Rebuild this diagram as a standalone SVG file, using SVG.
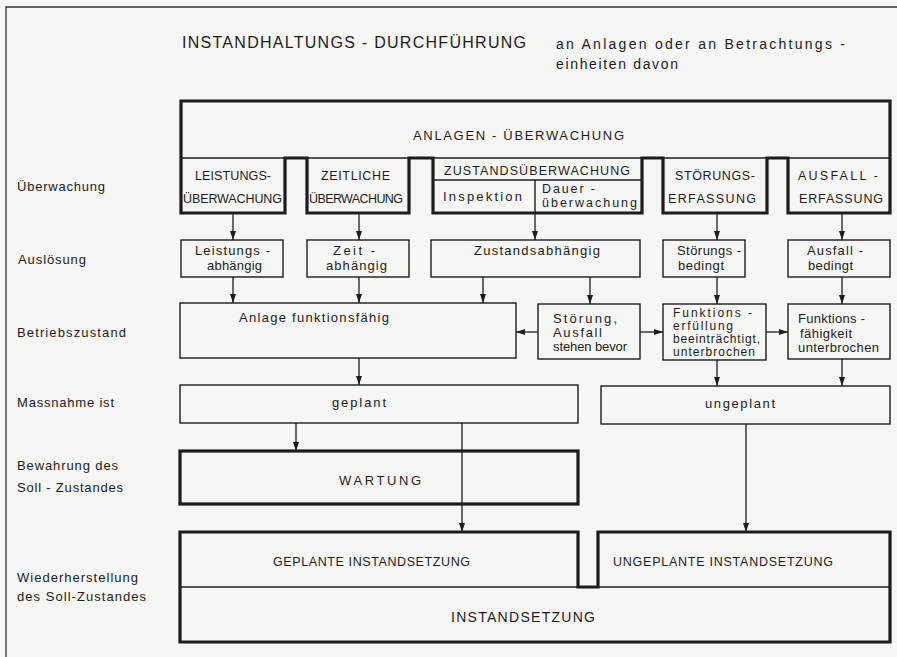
<svg xmlns="http://www.w3.org/2000/svg" width="897" height="657" viewBox="0 0 897 657">
<style>
text { font-family: "Liberation Sans", Arial, sans-serif; font-size: 13px; fill: #1c1c1c; }
.cap { font-size: 12.5px; }
.sm { font-size: 12px; }
.big { font-size: 16px; }
.sub { font-size: 14px; }
.thin { fill: none; stroke: #1c1c1c; stroke-width: 1.4; }
.heavy { fill: none; stroke: #1c1c1c; stroke-width: 3.2; stroke-linejoin: miter; }
.frame { fill: none; stroke: #333; stroke-width: 1.3; }
.conn line { stroke: #1c1c1c; stroke-width: 1.3; marker-end: url(#ah); }
</style>
<defs>
<marker id="ah" markerUnits="userSpaceOnUse" markerWidth="9" markerHeight="6" refX="9" refY="3" orient="auto">
<path d="M0,0 L9,3 L0,6 z" fill="#1c1c1c"/>
</marker>
</defs>
<rect width="897" height="657" fill="#f6f6f4"/>
<polyline class="frame" points="897,7 6,7 6,657"/>

<g id="title">
<text class="big" x="182" y="48" textLength="344" lengthAdjust="spacing">INSTANDHALTUNGS - DURCHFÜHRUNG</text>
<text class="sub" x="556" y="49" textLength="289" lengthAdjust="spacing">an Anlagen oder an Betrachtungs -</text>
<text class="sub" x="556" y="69" textLength="122" lengthAdjust="spacing">einheiten davon</text>
</g>

<g id="row-labels">
<text x="17" y="191" textLength="88" lengthAdjust="spacing">Überwachung</text>
<text x="18" y="264" textLength="68" lengthAdjust="spacing">Auslösung</text>
<text x="17" y="337" textLength="109" lengthAdjust="spacing">Betriebszustand</text>
<text x="17" y="407" textLength="97" lengthAdjust="spacing">Massnahme ist</text>
<text x="17" y="470" textLength="101" lengthAdjust="spacing">Bewahrung des</text>
<text x="17" y="492" textLength="106" lengthAdjust="spacing">Soll - Zustandes</text>
<text x="17" y="582" textLength="121" lengthAdjust="spacing">Wiederherstellung</text>
<text x="17" y="601" textLength="129" lengthAdjust="spacing">des Soll-Zustandes</text>
</g>

<g id="anlagen-ueberwachung">
<line class="thin" x1="181" y1="158" x2="890" y2="158"/>
<path class="heavy" d="M181,101 H890 V213 H788 V158 H767 V213 H663 V158 H642 V213 H433 V158 H409 V213 H307 V158 H285 V213 H181 Z"/>
<text x="413" y="140" textLength="211" lengthAdjust="spacing">ANLAGEN - ÜBERWACHUNG</text>
</g>

<g id="leistungsueberwachung">
<text class="cap" x="195" y="180" textLength="76" lengthAdjust="spacing">LEISTUNGS-</text>
<text class="cap" x="183" y="203" textLength="99" lengthAdjust="spacing">ÜBERWACHUNG</text>
</g>
<g id="zeitliche-ueberwachung">
<text class="cap" x="321" y="180" textLength="69" lengthAdjust="spacing">ZEITLICHE</text>
<text class="cap" x="309" y="203" textLength="94" lengthAdjust="spacing">ÜBERWACHUNG</text>
</g>
<g id="zustandsueberwachung">
<line class="thin" x1="433" y1="180" x2="642" y2="180"/>
<line class="thin" x1="535" y1="180" x2="535" y2="213"/>
<text class="cap" x="444" y="175" textLength="186" lengthAdjust="spacing">ZUSTANDSÜBERWACHUNG</text>
<text x="443" y="201" textLength="79" lengthAdjust="spacing">Inspektion</text>
<text class="cap" x="542" y="193" textLength="53" lengthAdjust="spacing">Dauer -</text>
<text class="cap" x="542" y="207" textLength="95" lengthAdjust="spacing">überwachung</text>
</g>
<g id="stoerungserfassung">
<text class="cap" x="675" y="180" textLength="80" lengthAdjust="spacing">STÖRUNGS-</text>
<text class="cap" x="668" y="203" textLength="88" lengthAdjust="spacing">ERFASSUNG</text>
</g>
<g id="ausfallerfassung">
<text class="cap" x="798" y="180" textLength="80" lengthAdjust="spacing">AUSFALL -</text>
<text class="cap" x="799" y="203" textLength="84" lengthAdjust="spacing">ERFASSUNG</text>
</g>

<g id="leistungsabhaengig">
<rect class="thin" x="181" y="240" width="102" height="37"/>
<text x="195" y="255" textLength="75" lengthAdjust="spacing">Leistungs -</text>
<text x="207" y="270" textLength="55" lengthAdjust="spacing">abhängig</text>
</g>
<g id="zeitabhaengig">
<rect class="thin" x="307" y="240" width="102" height="37"/>
<text x="333" y="255" textLength="42" lengthAdjust="spacing">Zeit -</text>
<text x="326" y="270" textLength="61" lengthAdjust="spacing">abhängig</text>
</g>
<g id="zustandsabhaengig">
<rect class="thin" x="431" y="240" width="209" height="37"/>
<text x="474" y="255" textLength="126" lengthAdjust="spacing">Zustandsabhängig</text>
</g>
<g id="stoerungsbedingt">
<rect class="thin" x="663" y="240" width="82" height="37"/>
<text x="677" y="255" textLength="64" lengthAdjust="spacing">Störungs -</text>
<text x="678" y="270" textLength="46" lengthAdjust="spacing">bedingt</text>
</g>
<g id="ausfallbedingt">
<rect class="thin" x="788" y="240" width="102" height="37"/>
<text x="807" y="255" textLength="56" lengthAdjust="spacing">Ausfall -</text>
<text x="808" y="270" textLength="45" lengthAdjust="spacing">bedingt</text>
</g>

<g id="anlage-funktionsfaehig">
<rect class="thin" x="180" y="303" width="336" height="55"/>
<text x="239" y="322" textLength="150" lengthAdjust="spacing">Anlage funktionsfähig</text>
</g>
<g id="stoerung-ausfall">
<rect class="thin" x="538" y="304" width="102" height="55"/>
<text x="553" y="323" textLength="64" lengthAdjust="spacing">Störung,</text>
<text x="553" y="337" textLength="49" lengthAdjust="spacing">Ausfall</text>
<text x="553" y="351" textLength="74" lengthAdjust="spacing">stehen bevor</text>
</g>
<g id="funktionserfuellung">
<rect class="thin" x="663" y="304" width="103" height="56"/>
<text class="sm" x="673" y="317" textLength="79" lengthAdjust="spacing">Funktions -</text>
<text class="sm" x="673" y="330" textLength="60" lengthAdjust="spacing">erfüllung</text>
<text class="sm" x="673" y="343" textLength="87" lengthAdjust="spacing">beeinträchtigt,</text>
<text class="sm" x="673" y="356" textLength="82" lengthAdjust="spacing">unterbrochen</text>
</g>
<g id="funktionsfaehigkeit">
<rect class="thin" x="788" y="304" width="102" height="55"/>
<text x="798" y="323" textLength="67" lengthAdjust="spacing">Funktions -</text>
<text x="800" y="338" textLength="52" lengthAdjust="spacing">fähigkeit</text>
<text x="798" y="352" textLength="81" lengthAdjust="spacing">unterbrochen</text>
</g>

<g id="geplant">
<rect class="thin" x="180" y="385" width="398" height="38"/>
<text x="332" y="407" textLength="54" lengthAdjust="spacing">geplant</text>
</g>
<g id="ungeplant">
<rect class="thin" x="601" y="386" width="289" height="38"/>
<text x="705" y="408" textLength="70" lengthAdjust="spacing">ungeplant</text>
</g>

<g id="wartung">
<rect class="heavy" x="180" y="451" width="398" height="53"/>
<text x="339" y="485" textLength="82" lengthAdjust="spacing">WARTUNG</text>
</g>

<g id="instandsetzung">
<line class="thin" x1="180" y1="587" x2="890" y2="587"/>
<path class="heavy" d="M180,532 H578 V587 H598 V532 H890 V642 H180 Z"/>
<text x="451" y="622" class="sub" textLength="144" lengthAdjust="spacing">INSTANDSETZUNG</text>
</g>
<g id="geplante-instandsetzung">
<text class="cap" x="273" y="566" textLength="197" lengthAdjust="spacing">GEPLANTE INSTANDSETZUNG</text>
</g>
<g id="ungeplante-instandsetzung">
<text class="cap" x="613" y="566" textLength="220" lengthAdjust="spacing">UNGEPLANTE INSTANDSETZUNG</text>
</g>

<g id="connectors" class="conn">
<line x1="233" y1="213" x2="233" y2="240"/>
<line x1="359" y1="213" x2="359" y2="240"/>
<line x1="535" y1="213" x2="535" y2="240"/>
<line x1="717" y1="213" x2="717" y2="240"/>
<line x1="842" y1="213" x2="842" y2="240"/>
<line x1="233" y1="277" x2="233" y2="303"/>
<line x1="359" y1="277" x2="359" y2="303"/>
<line x1="483" y1="277" x2="483" y2="303"/>
<line x1="590" y1="277" x2="590" y2="304"/>
<line x1="717" y1="277" x2="717" y2="304"/>
<line x1="842" y1="277" x2="842" y2="304"/>
<line x1="538" y1="332" x2="516" y2="332"/>
<line x1="640" y1="332" x2="663" y2="332"/>
<line x1="766" y1="332" x2="788" y2="332"/>
<line x1="359" y1="358" x2="359" y2="385"/>
<line x1="717" y1="360" x2="717" y2="386"/>
<line x1="842" y1="359" x2="842" y2="386"/>
<line x1="296" y1="423" x2="296" y2="451"/>
<line x1="462" y1="423" x2="462" y2="532"/>
<line x1="746" y1="424" x2="746" y2="532"/>
</g>
</svg>
